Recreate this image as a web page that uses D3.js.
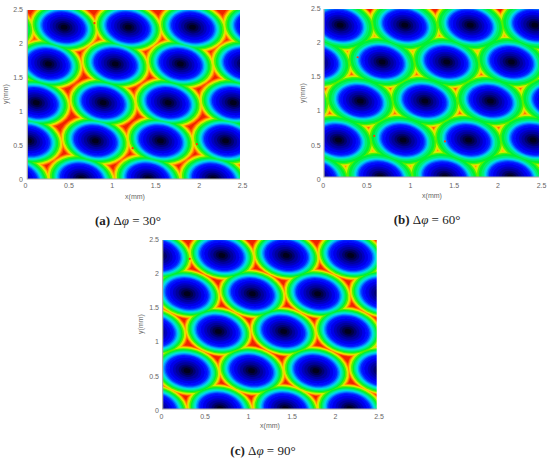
<!DOCTYPE html>
<html>
<head>
<meta charset="utf-8">
<script src="https://cdn.jsdelivr.net/npm/d3@7"></script>
<style>
  html, body { margin: 0; padding: 0; background: #fff; }
  svg { display: block; }
  .tick text, .axis-label { font-family: "Liberation Sans", Arial, sans-serif; font-size: 7px; fill: #666; }
  .caption { font-family: "Liberation Serif", serif; font-size: 13px; fill: #222; text-anchor: middle; }
</style>
</head>
<body>
<script>
//
// DATA (mm)
//

var tick_values = [0, 0.5, 1, 1.5, 2, 2.5];

// Dimple centres for each phase difference
var wells_x_a = [-0.28, 0.45, 1.19, 1.93, 2.67,  -0.49, 0.27, 1.04, 1.79, 2.54,  0.13, 0.90, 1.65, 2.40,  0.04, 0.81, 1.56, 2.31,  -0.10, 0.65, 1.42, 2.17];
var wells_y_a = [2.24, 2.24, 2.24, 2.24, 2.24,  1.70, 1.70, 1.70, 1.70, 1.70,  1.13, 1.13, 1.13, 1.13,  0.57, 0.57, 0.57, 0.57,  0.01, 0.01, 0.01, 0.01];

var wells_x_b = [0.20, 0.94, 1.69, 2.43,  -0.07, 0.68, 1.42, 2.16,  -0.32, 0.43, 1.17, 1.92, 2.66,  0.18, 0.92, 1.67, 2.41,  -0.09, 0.66, 1.40, 2.15];
var wells_y_b = [2.25, 2.25, 2.25, 2.25,  1.71, 1.71, 1.71, 1.71,  1.14, 1.14, 1.14, 1.14, 1.14,  0.57, 0.57, 0.57, 0.57,  0.03, 0.03, 0.03, 0.03];

var wells_x_c = [-0.03, 0.70, 1.44, 2.18,  0.30, 1.05, 1.80, 2.55,  -0.09, 0.66, 1.41, 2.15,  0.30, 1.04, 1.78, 2.54,  -0.07, 0.68, 1.43, 2.17];
var wells_y_c = [2.26, 2.26, 2.26, 2.26,  1.70, 1.70, 1.70, 1.70,  1.15, 1.15, 1.15, 1.15,  0.575, 0.575, 0.575, 0.575,  0.02, 0.02, 0.02, 0.02];

// Stray points in the plots
var specks_x_a = [0.80, 1.24, 1.98];
var specks_y_a = [2.30, 0.46, 0.52];
var specks_x_b = [0.40, 0.59, 1.40];
var specks_y_b = [1.78, 0.63, 0.55];
var specks_x_c = [0.33];
var specks_y_c = [2.21];

// Contour radius along the long axis, outermost first, per panel
var levels_a = [0.42, 0.405, 0.392, 0.38, 0.365, 0.345, 0.325, 0.31, 0.295, 0.28, 0.265, 0.25, 0.23, 0.20, 0.165, 0.135, 0.10, 0.07, 0.04];
var levels_b = [0.432, 0.422, 0.412, 0.40, 0.385, 0.365, 0.335, 0.31, 0.295, 0.28, 0.265, 0.25, 0.23, 0.20, 0.165, 0.135, 0.10, 0.07, 0.04];
var levels_c = [0.405, 0.393, 0.382, 0.372, 0.358, 0.34, 0.325, 0.31, 0.295, 0.28, 0.265, 0.25, 0.23, 0.20, 0.165, 0.135, 0.10, 0.07, 0.04];

var level_colors = ["#ff5000", "#ff9000", "#ffd000", "#c8f000", "#50f000", "#00f030", "#00ee70", "#00eab0",
                    "#00d8e8", "#00a0ff", "#0064ff", "#0028ff", "#0008ff", "#0000e8", "#0000c0",
                    "#00009c", "#000070", "#000044", "#00001e"];
var background_color = "#f02000";

var aspect = 0.9;    // short axis / long axis, in mm
var tilt = 11;       // degrees, long axis falls to the right

//
// LAYOUT
//
var panels = [
  {wx: wells_x_a, wy: wells_y_a, sx: specks_x_a, sy: specks_y_a, levels: levels_a,
   left: 25, right: 242, top: 9.5, bottom: 179.5, clip: [27.3, 10, 212.7, 169],
   xlabel: [135, 199], ylabel: [8, 94], caption: [128, 225], tag: "(a)", angle: "30°"},
  {wx: wells_x_b, wy: wells_y_b, sx: specks_x_b, sy: specks_y_b, levels: levels_b,
   left: 322.7, right: 541, top: 8, bottom: 179, clip: [324, 9, 215, 168],
   xlabel: [432, 198], ylabel: [305, 93], caption: [427, 224], tag: "(b)", angle: "60°"},
  {wx: wells_x_c, wy: wells_y_c, sx: specks_x_c, sy: specks_y_c, levels: levels_c,
   left: 161, right: 378.5, top: 239, bottom: 410, clip: [162.7, 240, 214, 169],
   xlabel: [270, 428], ylabel: [143, 324], caption: [263, 455], tag: "(c)", angle: "90°"}
];

var svg = d3.select("body").append("svg").attr("width", 550).attr("height", 463);

// The source figure is a soft raster
var defs = svg.append("defs");
defs.append("filter").attr("id", "soft").append("feGaussianBlur").attr("stdDeviation", 0.55);

function draw_panel(p, i){
  var x = d3.scaleLinear().domain([0, 2.5]).range([p.left, p.right]);
  var y = d3.scaleLinear().domain([0, 2.5]).range([p.bottom, p.top]);
  var wells = d3.range(p.wx.length).map(function(k){ return {x: p.wx[k], y: p.wy[k]}; });

  defs.append("clipPath").attr("id", "clip" + i).append("rect")
      .attr("x", p.clip[0]).attr("y", p.clip[1])
      .attr("width", p.clip[2]).attr("height", p.clip[3]);

  var g = svg.append("g").attr("clip-path", "url(#clip" + i + ")");
  var field = g.append("g").attr("filter", "url(#soft)");

  field.append("rect")
      .attr("x", p.clip[0] - 3).attr("y", p.clip[1] - 3)
      .attr("width", p.clip[2] + 6).attr("height", p.clip[3] + 6)
      .attr("fill", background_color);

  // One layer per contour, so neighbouring dimples merge the way contours do
  p.levels.forEach(function(r, l){
    field.append("g").attr("fill", level_colors[l])
      .selectAll("ellipse").data(wells).enter().append("ellipse")
      .attr("rx", x(r) - x(0))
      .attr("ry", y(0) - y(r * aspect))
      .attr("transform", function(d){
        return "translate(" + x(d.x) + "," + y(d.y) + ") rotate(" + tilt + ")";
      });
  });

  field.append("g").attr("fill", "#ff3c00")
    .selectAll("circle").data(d3.range(p.sx.length)).enter().append("circle")
    .attr("cx", function(k){ return x(p.sx[k]); })
    .attr("cy", function(k){ return y(p.sy[k]); })
    .attr("r", 1.1);

  // Axes: only left and bottom, MATLAB "box off"
  svg.append("path")
     .attr("d", "M" + p.clip[0] + "," + p.clip[1] + "V" + (p.clip[1] + p.clip[3]) + "H" + (p.clip[0] + p.clip[2]))
     .attr("fill", "none").attr("stroke", "#a8a8a8").attr("stroke-width", 1.2);

  var ax = svg.append("g").attr("transform", "translate(0," + (p.bottom + 1) + ")")
     .call(d3.axisBottom(x).tickValues(tick_values).tickSize(0).tickPadding(3).tickFormat(d3.format("")));
  ax.select(".domain").remove();

  var ay = svg.append("g").attr("transform", "translate(" + (p.left - 1) + ",0)")
     .call(d3.axisLeft(y).tickValues(tick_values).tickSize(0).tickPadding(1).tickFormat(d3.format("")));
  ay.select(".domain").remove();

  svg.selectAll(".tick text").attr("fill", null);

  svg.append("text").attr("class", "axis-label")
     .attr("x", p.xlabel[0]).attr("y", p.xlabel[1]).attr("text-anchor", "middle").text("x(mm)");
  svg.append("text").attr("class", "axis-label")
     .attr("text-anchor", "middle")
     .attr("transform", "translate(" + p.ylabel[0] + "," + p.ylabel[1] + ") rotate(-90)")
     .text("y(mm)");

  var cap = svg.append("text").attr("class", "caption").attr("x", p.caption[0]).attr("y", p.caption[1]);
  cap.append("tspan").attr("font-weight", "bold").text(p.tag);
  cap.append("tspan").text(" Δ");
  cap.append("tspan").attr("font-style", "italic").text("φ");
  cap.append("tspan").text(" = " + p.angle);
}

panels.forEach(draw_panel);
</script>
</body>
</html>
